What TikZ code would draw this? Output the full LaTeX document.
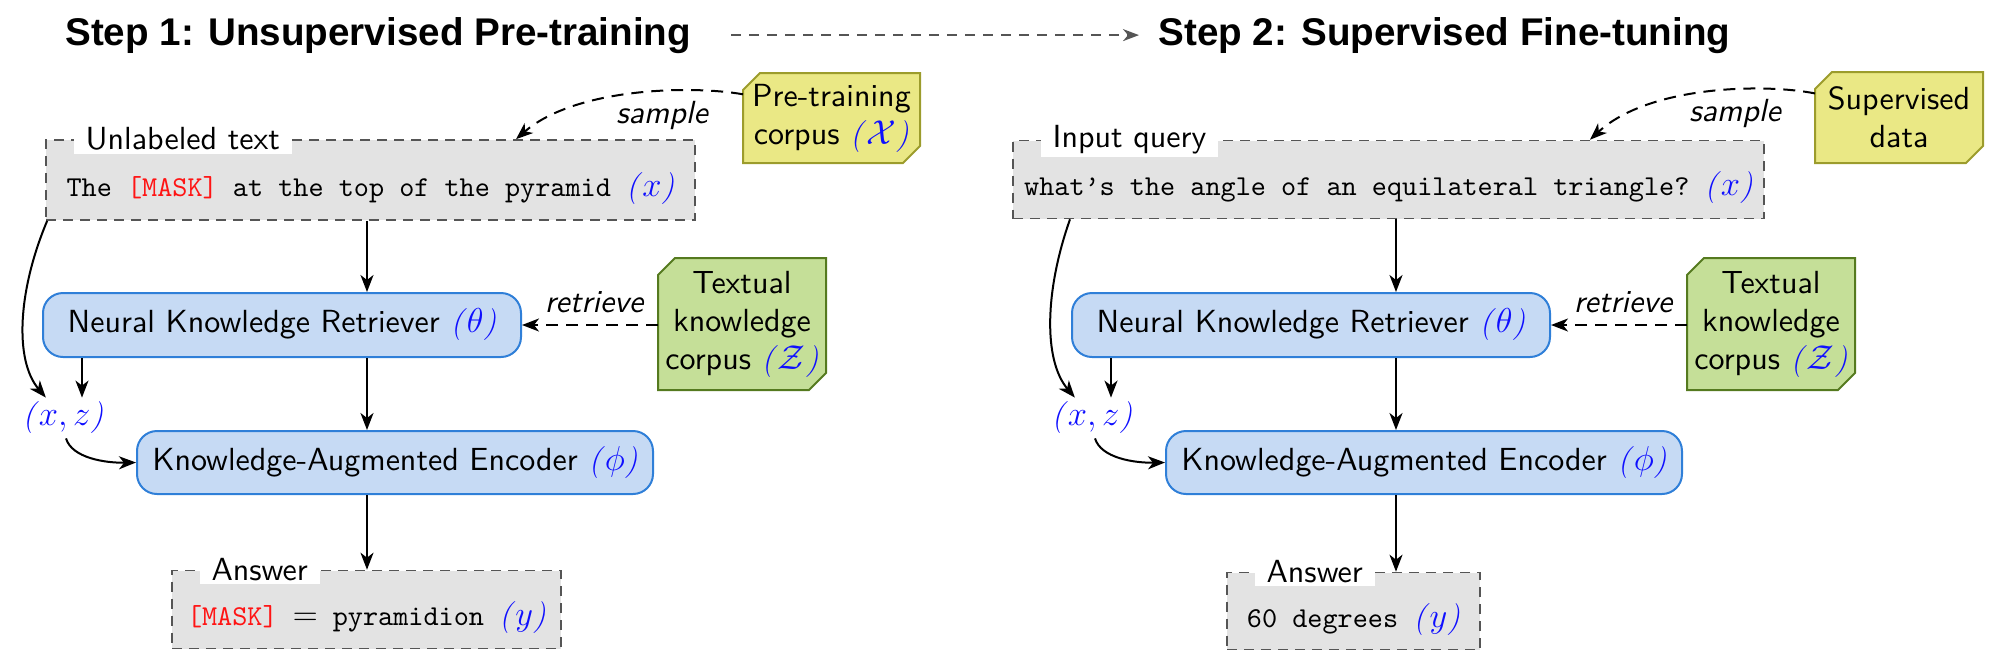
\documentclass[tikz,border=0pt]{standalone}
\usepackage{fontspec}
\setsansfont{lmsans10}[Extension=.otf, UprightFont=*-regular, ItalicFont=*-oblique, BoldFont=*-bold]
\setmonofont{lmmono10}[Extension=.otf, UprightFont=*-regular]
\newfontfamily\titlefont{Liberation Sans}
\usetikzlibrary{arrows.meta,backgrounds}
\definecolor{boxgray}{HTML}{E3E3E3}
\definecolor{dashgray}{HTML}{555555}
\definecolor{bluefill}{HTML}{C6DAF4}
\definecolor{blueedge}{HTML}{2F7FD8}
\definecolor{yelfill}{HTML}{EAE885}
\definecolor{yeledge}{HTML}{9C9C2C}
\definecolor{grnfill}{HTML}{C5DF98}
\definecolor{grnedge}{HTML}{557A1F}
\definecolor{mathblue}{HTML}{0F0FFF}
\definecolor{maskred}{HTML}{FF1414}
\newcommand\ttsz{\ttfamily\fontsize{14.4}{17}\selectfont}
\newcommand\bluem[1]{{\fontsize{16}{19}\selectfont\color{mathblue}\textit{\rmfamily(}$#1$\textit{\rmfamily)}}}
\newcommand\msk{\textcolor{maskred}{[MASK]}}
\newcommand\eqsign{{\fontsize{16}{19}\selectfont$=$}}
\newcommand\chamfbox[3]{\draw[draw=#2, fill=#3, line width=1pt, line join=miter]
  ([yshift=-8.5pt]#1.north west) -- ([xshift=8.5pt]#1.north west) -- (#1.north east)
  -- ([yshift=8.5pt]#1.south east) -- ([xshift=-8.5pt]#1.south east) -- (#1.south west) -- cycle;}
\begin{document}
\begin{tikzpicture}[x=0.5pt,y=-0.5pt,
  font=\sffamily\fontsize{16}{19}\selectfont,
  tbox/.style={draw=dashgray, line width=0.8pt, dash pattern=on 5pt off 3.5pt, fill=boxgray, inner sep=0pt, text height=18pt, text depth=2pt},
  lab/.style={fill=white, inner xsep=6pt, inner ysep=1.5pt, anchor=west},
  blk/.style={draw=blueedge, fill=bluefill, line width=1pt, rounded corners=10pt, inner sep=0pt},
  corp/.style={inner sep=0pt, outer sep=0pt, align=center},
  arr/.style={-{Stealth[length=8.5pt,width=6.5pt,inset=2.5pt]}, line width=1pt},
  darr/.style={arr, dash pattern=on 6pt off 4pt},
  garr/.style={draw=dashgray, -{Stealth[length=8pt,width=6pt,inset=2.5pt]}, line width=1pt, dash pattern=on 5pt off 4pt},
  ttl/.style={font=\titlefont\bfseries\fontsize{19.3}{23}\selectfont, inner sep=0pt},
  slab/.style={font=\sffamily\itshape\fontsize{16}{19}\selectfont, inner sep=0pt}
]
\useasboundingbox (0,0) rectangle (1999,671);

% titles
\node[ttl, anchor=base west] (t1) at (65,45) {Step 1: Unsupervised Pre-training};
\node[ttl, anchor=base west] (t2) at (1158,45) {Step 2: Supervised Fine-tuning};
\draw[garr, shorten <=20pt, shorten >=9.5pt] (t1.east) -- (t2.west);

% ---------- left panel ----------
\node[tbox, minimum width=324.5pt, minimum height=40pt] (in1) at (370.5,180) {\ttsz The \msk{} at the top of the pyramid \bluem{x}};
\node[lab] (l1) at ([xshift=14pt]in1.north west) {Unlabeled text};
\node[blk, minimum width=239pt, minimum height=32pt] (ret1) at (282,325) {Neural Knowledge Retriever \bluem{\theta}};
\node[blk, minimum width=258pt, minimum height=31.5pt] (kae1) at (395,462.5) {Knowledge-Augmented Encoder \bluem{\phi}};
\node[tbox, minimum width=194.5pt, minimum height=39pt] (ans1) at (366.5,609.5) {\ttsz \msk{} \eqsign{} pyramidion \bluem{y}};
\node[lab] (l3) at ([xshift=14pt]ans1.north west) {Answer};
\node[inner sep=2pt] (xz1) at (63,418) {\bluem{x,z}};
\node[corp, minimum width=88.5pt, minimum height=45pt] (c1) at (831.5,118) {Pre-training\\corpus \bluem{\mathcal{X}}};
\node[corp, minimum width=84pt, minimum height=66pt] (g1) at (742,324) {Textual\\knowledge\\corpus \bluem{\mathcal{Z}}};
\node[slab] (s1) at (662,115) {sample};
\node[slab] (r1) at (594,302) {retrieve};

\coordinate (ax1) at (367,0);
\coordinate (xa1) at (82,0);
\draw[arr] (in1.south -| ax1) -- (ret1.north -| ax1);
\draw[arr] (ret1.south -| ax1) -- (kae1.north -| ax1);
\draw[arr] (kae1.south -| ax1) -- (ans1.north -| ax1);
\draw[arr] (ret1.south -| xa1) -- (xz1.north -| xa1);
\draw[arr] ([xshift=1pt]in1.south west) .. controls (18,290) and (14,360) .. (xz1.130);
\draw[arr] ([xshift=1.5pt]xz1.south) .. controls (72,458) and (105,463) .. (kae1.west);
\draw[darr] (c1.165) .. controls (690,85) and (575,88) .. ([xshift=72.75pt]in1.north);
\draw[darr] (g1.west |- ret1.east) -- (ret1.east);

% ---------- right panel ----------
\node[tbox, minimum width=375.5pt, minimum height=39pt] (in2) at (1388.5,179.5) {\ttsz what’s the angle of an equilateral triangle? \bluem{x}};
\node[lab] (l2) at ([xshift=14pt]in2.north west) {Input query};
\node[blk, minimum width=239pt, minimum height=32pt] (ret2) at (1311,325) {Neural Knowledge Retriever \bluem{\theta}};
\node[blk, minimum width=258pt, minimum height=31.5pt] (kae2) at (1424,462.5) {Knowledge-Augmented Encoder \bluem{\phi}};
\node[tbox, minimum width=126.5pt, minimum height=38.5pt] (ans2) at (1353.5,611) {\ttsz 60 degrees \bluem{y}};
\node[lab] (l4) at ([xshift=14pt]ans2.north west) {Answer};
\node[inner sep=2pt] (xz2) at (1092,418) {\bluem{x,z}};
\node[corp, minimum width=84pt, minimum height=45.5pt] (c2) at (1899,117.5) {Supervised\\data};
\node[corp, minimum width=84pt, minimum height=66pt] (g2) at (1771,324) {Textual\\knowledge\\corpus \bluem{\mathcal{Z}}};
\node[slab] (s2) at (1735,113) {sample};
\node[slab] (r2) at (1623,302) {retrieve};

\coordinate (ax2) at (1396,0);
\coordinate (xa2) at (1111,0);
\coordinate (cs2) at (1070,0);
\draw[arr] (in2.south -| ax2) -- (ret2.north -| ax2);
\draw[arr] (ret2.south -| ax2) -- (kae2.north -| ax2);
\draw[arr] (kae2.south -| ax2) -- (ans2.north -| ax2);
\draw[arr] (ret2.south -| xa2) -- (xz2.north -| xa2);
\draw[arr] (in2.south -| cs2) .. controls (1045,290) and (1043,360) .. (xz2.130);
\draw[arr] ([xshift=1.5pt]xz2.south) .. controls (1101,458) and (1134,463) .. (kae2.west);
\draw[darr] (c2.164) .. controls (1762,83) and (1648,86) .. ([xshift=100.75pt]in2.north);
\draw[darr] (g2.west |- ret2.east) -- (ret2.east);

% chamfered corpus shapes behind their texts
\begin{pgfonlayer}{background}
\chamfbox{c1}{yeledge}{yelfill}
\chamfbox{g1}{grnedge}{grnfill}
\chamfbox{c2}{yeledge}{yelfill}
\chamfbox{g2}{grnedge}{grnfill}
\end{pgfonlayer}
\end{tikzpicture}
\end{document}
